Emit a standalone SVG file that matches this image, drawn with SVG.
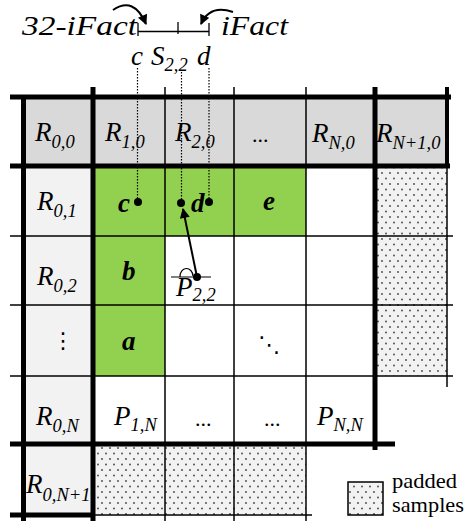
<svg xmlns="http://www.w3.org/2000/svg" width="466" height="522" viewBox="0 0 466 522">
<style>
.t{font-family:"Liberation Serif","Times New Roman",serif;font-style:italic;font-size:27px;fill:#000}
.s{font-size:18.5px}
.b{font-weight:bold}
.u{font-family:"Liberation Serif","Times New Roman",serif;font-size:22px;fill:#000}
.sym{font-family:"DejaVu Sans",sans-serif;font-size:22px;fill:#000}
.thin{stroke:#000;stroke-width:1.5;fill:none}
.thick{stroke:#000;stroke-width:5;fill:none}
.dot{stroke:#000;stroke-width:1.2;stroke-dasharray:1.5 1.5;fill:none}
.pt{fill:#000}
</style>
<defs>
<pattern id="dots" width="8" height="11" patternUnits="userSpaceOnUse">
<rect width="8" height="11" fill="#f2f2f2"/>
<circle cx="2" cy="2.5" r="0.9" fill="#444"/>
<circle cx="6" cy="8" r="0.9" fill="#444"/>
</pattern>
<marker id="ah" viewBox="0 0 10 10" refX="9" refY="5" markerWidth="11" markerHeight="10" orient="auto" markerUnits="userSpaceOnUse">
<path d="M0,0 L10,5 L0,10 z" fill="#000"/>
</marker>
</defs>

<!-- fills -->
<g id="fills">
<rect x="23.5" y="97" width="423.5" height="69" fill="#d9d9d9"/>
<rect x="23.5" y="166" width="69.5" height="349" fill="#f2f2f2"/>
<rect x="93" y="166" width="72" height="70" fill="#92d050"/>
<rect x="165" y="166" width="69" height="70" fill="#92d050"/>
<rect x="234" y="166" width="72" height="70" fill="#92d050"/>
<rect x="93" y="236" width="72" height="69" fill="#92d050"/>
<rect x="93" y="305" width="72" height="71" fill="#92d050"/>
<rect x="375" y="166" width="72" height="210" fill="url(#dots)"/>
<rect x="93" y="444" width="213" height="71" fill="url(#dots)"/>
</g>

<!-- grid lines -->
<g id="grid">
<line class="thin" x1="165" y1="87" x2="165" y2="521"/>
<line class="thin" x1="234" y1="87" x2="234" y2="521"/>
<line class="thin" x1="306" y1="87" x2="306" y2="521"/>
<line class="thin" x1="10" y1="236" x2="453" y2="236"/>
<line class="thin" x1="10" y1="305" x2="453" y2="305"/>
<line class="thin" x1="10" y1="376" x2="453" y2="376"/>
<line class="thin" x1="93" y1="515" x2="312" y2="515"/>
<line class="thin" x1="447" y1="166" x2="447" y2="387"/>
<line stroke="#000" stroke-width="4" x1="447" y1="87" x2="447" y2="168"/>
<line class="thick" x1="10" y1="97" x2="451" y2="97"/>
<line class="thick" x1="10" y1="166" x2="450" y2="166"/>
<line class="thick" x1="10" y1="444" x2="395" y2="444"/>
<line class="thick" x1="10" y1="515" x2="93" y2="515"/>
<line class="thick" x1="23.5" y1="97" x2="23.5" y2="521"/>
<line class="thick" x1="93" y1="87" x2="93" y2="521"/>
<line class="thick" x1="375" y1="87" x2="375" y2="450"/>
</g>

<!-- row 0 -->
<g id="R00"><text class="t" x="35" y="141">R<tspan class="s" dy="7">0,0</tspan></text></g>
<g id="R10"><text class="t" x="105" y="141">R<tspan class="s" dy="7">1,0</tspan></text></g>
<g id="R20"><text class="t" x="175" y="141">R<tspan class="s" dy="7">2,0</tspan></text></g>
<g id="dots0"><text class="u" x="252" y="142">...</text></g>
<g id="RN0"><text class="t" x="312" y="142">R<tspan class="s" dy="7">N,0</tspan></text></g>
<g id="RN10"><text class="t" x="376" y="142">R<tspan class="s" dy="7">N+1,0</tspan></text></g>

<!-- column 0 -->
<g id="R01"><text class="t" x="37" y="210">R<tspan class="s" dy="7">0,1</tspan></text></g>
<g id="R02"><text class="t" x="37" y="285">R<tspan class="s" dy="7">0,2</tspan></text></g>
<g id="vdots"><text class="sym" x="52" y="348">⋮</text></g>
<g id="R0N"><text class="t" x="36" y="425">R<tspan class="s" dy="7">0,N</tspan></text></g>
<g id="R0N1"><text class="t" x="26" y="493">R<tspan class="s" dy="8">0,N+1</tspan></text></g>

<!-- green samples -->
<g id="c"><text class="t b" x="118" y="212">c</text><circle class="pt" cx="138" cy="202" r="4"/></g>
<g id="d"><text class="t b" x="191" y="212">d</text><circle class="pt" cx="181" cy="203" r="4"/><circle class="pt" cx="209" cy="202" r="4"/></g>
<g id="e"><text class="t b" x="263" y="210">e</text></g>
<g id="b"><text class="t b" x="122" y="280">b</text></g>
<g id="a"><text class="t b" x="122" y="350">a</text></g>

<!-- P22 -->
<g id="P22">
<line stroke="#000" stroke-width="1.2" x1="171" y1="277" x2="211" y2="277"/>
<path d="M180,277 A6.5,8 0 1 1 193,276" fill="none" stroke="#000" stroke-width="1.2"/>
<circle class="pt" cx="197" cy="277" r="4"/>
<text class="t" x="176" y="296" font-size="24">P<tspan class="s" font-size="16.5" dy="5">2,2</tspan></text>
</g>

<g id="ddots"><text class="sym" x="258" y="352">⋱</text></g>

<!-- row N -->
<g id="P1N"><text class="t" x="114" y="425">P<tspan class="s" dy="6">1,N</tspan></text></g>
<g id="dotsN1"><text class="u" x="195" y="426">...</text></g>
<g id="dotsN2"><text class="u" x="264" y="426">...</text></g>
<g id="PNN"><text class="t" x="317" y="425">P<tspan class="s" dy="6">N,N</tspan></text></g>

<!-- top annotation -->
<g id="interval">
<line stroke="#000" stroke-width="1.3" x1="138" y1="31.5" x2="209" y2="31.5"/>
<line stroke="#000" stroke-width="1.3" x1="138" y1="23" x2="138" y2="36"/>
<line stroke="#000" stroke-width="1.3" x1="178" y1="22" x2="178" y2="34"/>
<line stroke="#000" stroke-width="1.3" x1="209" y1="23" x2="209" y2="36"/>
<text class="t" x="22" y="35" font-size="29" textLength="115" lengthAdjust="spacingAndGlyphs">32-iFact</text>
<text class="t" x="221" y="35" font-size="29" textLength="67" lengthAdjust="spacingAndGlyphs">iFact</text>
<text class="t" x="131" y="65">c</text>
<text class="t" x="151" y="65">S<tspan class="s" dy="6">2,2</tspan></text>
<text class="t" x="197" y="65">d</text>
</g>

<!-- connectors -->
<g id="connectors">
<path d="M113,10 Q134,-4 146,24" fill="none" stroke="#000" stroke-width="2" marker-end="url(#ah)"/>
<path d="M233,12 Q210,4 201,24" fill="none" stroke="#000" stroke-width="2" marker-end="url(#ah)"/>
<line class="dot" x1="137.5" y1="68" x2="137.5" y2="202"/>
<line class="dot" x1="181.5" y1="72" x2="181.5" y2="203"/>
<line class="dot" x1="209" y1="68" x2="209" y2="202"/>
<line stroke="#000" stroke-width="2" x1="197" y1="277" x2="183" y2="209" marker-end="url(#ah)"/>
</g>

<!-- legend -->
<g id="legend">
<rect x="348" y="482" width="35" height="33" fill="url(#dots)" stroke="#000" stroke-width="1.5"/>
<text class="u" x="392" y="488" font-size="21" textLength="65" lengthAdjust="spacingAndGlyphs">padded</text>
<text class="u" x="392" y="512" font-size="21" textLength="72" lengthAdjust="spacingAndGlyphs">samples</text>
</g>
</svg>
